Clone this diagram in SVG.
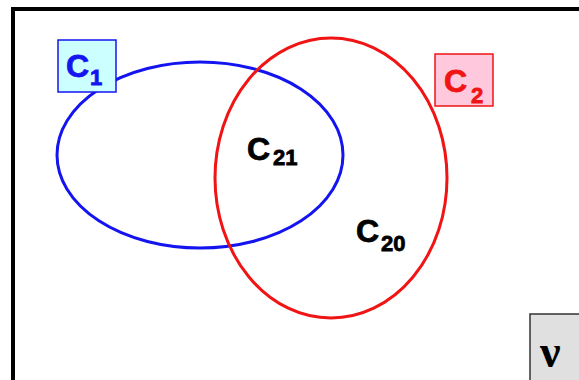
<svg xmlns="http://www.w3.org/2000/svg" width="579" height="380" viewBox="0 0 579 380">
<style>
.lbl{font-family:"Liberation Sans",Arial,sans-serif;font-weight:bold;stroke-width:0.8}
.big{font-size:32px}
.sub{font-size:22px}
</style>
<rect width="579" height="380" fill="#fff"/>
<rect x="13" y="9" width="600" height="400" fill="none" stroke="#000" stroke-width="4"/>
<g id="connectors"></g>
<g id="C1set">
<ellipse cx="200" cy="155" rx="143" ry="93" fill="none" stroke="#1414f0" stroke-width="3"/>
</g>
<g id="C2set">
<ellipse cx="331" cy="178" rx="116" ry="140" fill="none" stroke="#f01414" stroke-width="3"/>
</g>
<g id="C1">
<rect x="58" y="40" width="58" height="52" fill="#ccffff" stroke="#1414f0" stroke-width="1.5"/>
<text class="lbl big" x="66" y="77" fill="#1414f0" stroke="#1414f0">C<tspan class="sub" dx="1" dy="8">1</tspan></text>
</g>
<g id="C2">
<rect x="435" y="54" width="58" height="52" fill="#ffc8dc" stroke="#f01414" stroke-width="1.5"/>
<text class="lbl big" x="444" y="92" fill="#f01414" stroke="#f01414">C<tspan class="sub" dx="4" dy="11">2</tspan></text>
</g>
<g id="C21">
<text class="lbl big" x="247" y="160" fill="#000" stroke="#000">C<tspan class="sub" dx="3" dy="5">21</tspan></text>
</g>
<g id="C20">
<text class="lbl big" x="356" y="242" fill="#000" stroke="#000">C<tspan class="sub" dx="2" dy="9">20</tspan></text>
</g>
<g id="nu">
<rect x="530" y="314" width="60" height="80" fill="#e0e0e0" stroke="#333" stroke-width="1.5"/>
<text x="540" y="367" font-family="Liberation Serif,'Times New Roman',serif" font-weight="bold" font-size="46" fill="#000">ν</text>
</g>
</svg>
